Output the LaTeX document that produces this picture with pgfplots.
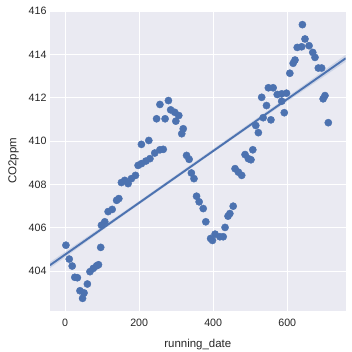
\documentclass[border=0pt]{standalone}
\usepackage{pgfplots}
\pgfplotsset{compat=1.18}
\usepackage{fontspec}
\setmainfont{Liberation Sans}
\definecolor{sbblue}{HTML}{4C72B0}
\definecolor{sbbg}{HTML}{EAEAF2}
\definecolor{sbtext}{HTML}{262626}
\begin{document}
\begin{tikzpicture}
\path[use as bounding box] (-50bp,-41.3bp) rectangle (302bp,310.7bp);
\begin{axis}[
  at={(0,0)}, anchor=south west,
  scale only axis, width=295.7bp, height=299.7bp,
  xmin=-41, xmax=758, ymin=402.18, ymax=416,
  axis background/.style={fill=sbbg},
  axis line style={draw=none},
  grid=major, major grid style={white, line width=1.1bp},
  xtick={0,200,400,600}, ytick={404,406,408,410,412,414,416},
  tick style={draw=none},
  ticklabel style={font=\fontsize{10.7}{12}\selectfont, text=sbtext},
  /pgf/number format/assume math mode=true,
  /pgf/number format/1000 sep={},
  xlabel={running\_date}, ylabel={CO2ppm},
  label style={font=\fontsize{11.5}{13}\selectfont, text=sbtext},
  xlabel style={yshift=-6bp},
  ylabel style={yshift=3bp},
  xticklabel style={yshift=-5bp},
]
% confidence band
\addplot[draw=none, fill=sbblue, fill opacity=0.18, forget plot] coordinates {
(-41,404.14) (100,405.88) (200,407.08) (300,408.28) (400,409.48) (500,410.66) (600,411.83) (758,413.66)
(758,413.98) (600,412.03) (500,410.84) (400,409.64) (300,408.44) (200,407.24) (100,406.06) (-41,404.42)
} -- cycle;
% regression line
\addplot[sbblue, line width=1.9bp, forget plot] coordinates {(-41,404.28) (758,413.82)};
% data
\addplot[only marks, mark=*, mark size=3.6bp, mark options={draw=sbblue, fill=sbblue}] coordinates {
(2,405.2) (11,404.56) (19,404.24) (26,403.72) (33,403.70) (40,403.1) (47,402.75) (51,403.0)
(60,403.41) (67,403.98) (76,404.13) (85,404.25) (90,404.3) (96,405.1) (98,406.12) (107,406.28)
(116,406.75) (127,406.85) (139,407.27) (145,407.35) (152,408.09) (161,408.19) (170,408.04)
(179,408.27) (190,408.42) (197,408.88) (206,408.96) (218,409.08) (229,409.19) (242,409.45)
(206,409.85) (226,410.03) (256,409.6) (265,409.62) (247,411.03) (256,411.69) (270,411.03)
(279,411.87) (285,411.44) (296,411.33) (299,410.92) (307,411.18) (315,410.34) (319,410.57)
(328,409.34) (335,409.16) (341,408.53) (348,408.27) (355,407.46) (362,407.2) (373,406.89)
(380,406.28) (393,405.51) (398,405.42) (405,405.71) (418,405.59) (427,405.59) (432,406.02)
(440,406.54) (445,406.66) (454,407.0) (459,408.73) (468,408.57) (477,408.42) (486,409.38)
(495,409.19) (502,409.14) (507,409.6) (515,410.72) (522,410.39) (531,412.02) (535,411.08)
(544,411.64) (549,412.46) (556,410.98) (562,412.46) (573,412.15) (585,412.18) (585,411.84)
(592,411.31) (598,412.21) (607,413.13) (616,413.59) (621,413.74) (627,414.32) (639,414.35)
(641,415.37) (648,414.71) (659,414.4) (669,414.09) (675,413.86) (684,413.37) (693,413.37)
(697,411.95) (702,412.1) (711,410.85)
};
\end{axis}
\end{tikzpicture}
\end{document}
